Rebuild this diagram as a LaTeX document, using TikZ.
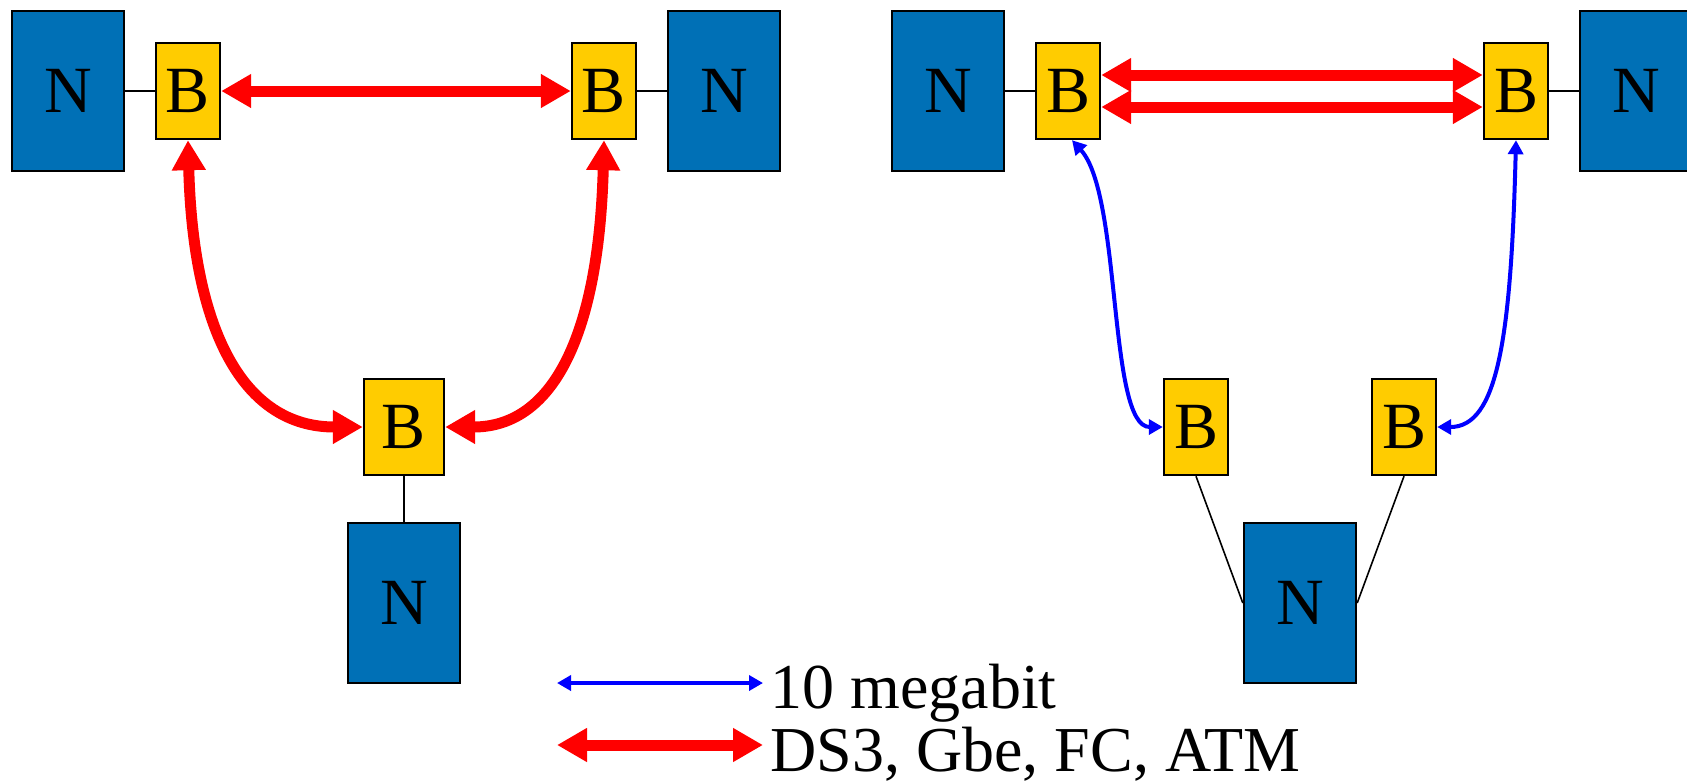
\documentclass[tikz,border=0pt]{standalone}
\usepackage{fontspec}
\setmainfont{Liberation Serif}
\usetikzlibrary{arrows.meta}
\definecolor{netBlue}{HTML}{0070B6}
\definecolor{bridgeGold}{HTML}{FFCC00}

\begin{document}
\begin{tikzpicture}[
    x=0.5pt, y=-0.5pt,
    netBox/.style={rectangle, draw=black, line width=1.2pt, fill=netBlue, minimum width=56pt, minimum height=80pt, inner sep=0pt, font=\fontsize{33}{38}\selectfont},
    bridgeBox/.style={rectangle, draw=black, line width=1.2pt, fill=bridgeGold, minimum width=32pt, minimum height=48pt, inner sep=0pt, font=\fontsize{33}{38}\selectfont},
    wideBridge/.style={bridgeBox, minimum width=40pt},
    legendText/.style={inner sep=0pt, anchor=base west, font=\fontsize{32}{38}\selectfont},
    wireLine/.style={draw=black, line width=0.8pt},
    fastLink/.style={{Triangle[width=16pt,length=15pt]}-{Triangle[width=16pt,length=15pt]}, line width=5.5pt, draw=red},
    slowLink/.style={{Triangle[width=7.5pt,length=7pt]}-{Triangle[width=7.5pt,length=7pt]}, line width=2pt, draw=blue}
]
    \useasboundingbox (0,0) rectangle (1687,783);

    % left ring
    \node[netBox] (nA) at (68, 91) {N};
    \node[bridgeBox] (bA) at (188, 91) {B};
    \node[bridgeBox] (bB) at (604, 91) {B};
    \node[netBox] (nB) at (724, 91) {N};
    \node[wideBridge] (bC) at (404, 427) {B};
    \node[netBox] (nC) at (404, 603) {N};

    \draw[wireLine] (nA.east) -- (bA.west);
    \draw[wireLine] (bB.east) -- (nB.west);
    \draw[wireLine] (bC.south) -- (nC.north);

    \draw[fastLink] (bA.east) -- (bB.west);
    \draw[fastLink] (bA.south) .. controls +(5,190) and +(-120,0) .. (bC.west);
    \draw[fastLink] (bB.south) .. controls +(-5,190) and +(110,0) .. (bC.east);

    % right pair
    \node[netBox] (nD) at (948, 91) {N};
    \node[bridgeBox] (bD) at (1068, 91) {B};
    \node[bridgeBox] (bE) at (1516, 91) {B};
    \node[netBox] (nE) at (1636, 91) {N};
    \node[bridgeBox] (bF) at (1196, 427) {B};
    \node[bridgeBox] (bG) at (1404, 427) {B};
    \node[netBox] (nF) at (1300, 603) {N};

    \draw[wireLine] (nD.east) -- (bD.west);
    \draw[wireLine] (bE.east) -- (nE.west);
    \draw[wireLine] (bF.south) -- (nF.west);
    \draw[wireLine] (bG.south) -- (nF.east);

    \draw[fastLink] ([yshift=8pt]bD.east) -- ([yshift=8pt]bE.west);
    \draw[fastLink] ([yshift=-8pt]bD.east) -- ([yshift=-8pt]bE.west);
    \draw[slowLink] ([xshift=2pt]bD.south) .. controls +(50,55) and +(-55,0) .. (bF.west);
    \draw[slowLink] (bE.south) .. controls +(-5,200) and +(60,0) .. (bG.east);

    % legend
    \coordinate (slowL) at (557, 683);
    \coordinate (slowR) at (763, 683);
    \coordinate (fastL) at (557, 745);
    \coordinate (fastR) at (763, 745);
    \node[legendText] (slowLbl) at (770, 708) {10 megabit};
    \node[legendText] (fastLbl) at (770, 771) {DS3, Gbe, FC, ATM};
    \draw[slowLink] (slowL) -- (slowR);
    \draw[fastLink] (fastL) -- (fastR);
\end{tikzpicture}
\end{document}
